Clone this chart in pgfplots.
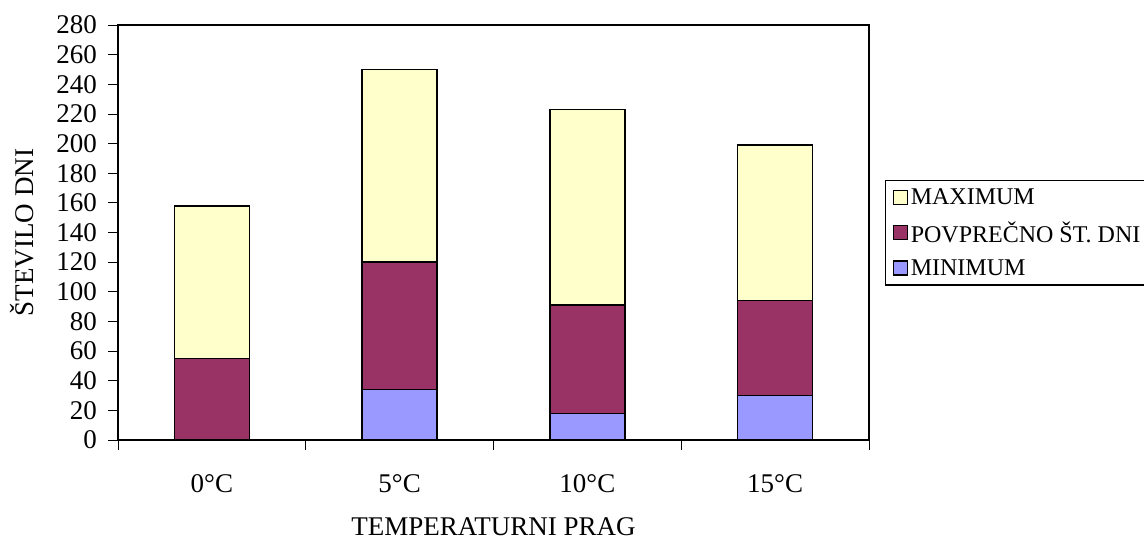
\documentclass[border=0pt]{standalone}
\usepackage{pgfplots}
\pgfplotsset{compat=1.18}
\usepackage{fontspec}
\setmainfont{Liberation Serif}

\definecolor{cmax}{HTML}{FFFFCC}
\definecolor{cavg}{HTML}{993366}
\definecolor{cmin}{HTML}{9999FF}

\begin{document}
\begin{tikzpicture}
\path[use as bounding box] (-118bp,-101bp) rectangle (1026bp,440bp);
\begin{axis}[
  scale only axis,
  width=751bp, height=415bp,
  xmin=-0.5, xmax=3.5,
  ymin=0, ymax=280,
  ytick distance=20,
  xtick={0,1,2,3},
  xticklabels={0°C,5°C,10°C,15°C},
  minor xtick={-0.5,0.5,1.5,2.5,3.5},
  major x tick style={draw=none},
  minor x tick style={black, line width=0.6bp},
  y tick style={black, line width=0.8bp},
  tick align=outside,
  major tick length=10bp,
  minor tick length=10bp,
  ytick pos=left, xtick pos=bottom,
  axis line style={black, line width=1.6bp},
  /pgf/number format/assume math mode=true,
  ticklabel style={font=\fontsize{27bp}{32bp}\selectfont},
  yticklabel style={anchor=east, inner xsep=0pt, xshift=-11bp},
  xticklabel style={anchor=base, yshift=-42bp},
  every axis y label/.style={at={(rel axis cs:0,0.5)}, rotate=90, anchor=center, yshift=96bp, font=\fontsize{27bp}{32bp}\selectfont},
  every axis x label/.style={at={(rel axis cs:0.5,0)}, anchor=base, yshift=-95bp, font=\fontsize{27bp}{32bp}\selectfont},
  ylabel={ŠTEVILO DNI},
  xlabel={TEMPERATURNI PRAG},
  ybar, bar width=75bp, bar shift=0pt,
  legend style={at={(rel axis cs:1.0213,0.627)}, anchor=north west,
    draw=black, line width=1.2bp, inner xsep=7bp, inner ysep=6.5bp,
    font=\fontsize{24bp}{28bp}\selectfont, row sep=11.5bp,
    cells={anchor=west},
    /tikz/every odd column/.append style={column sep=1bp}},
  legend image code/.code={\draw[#1, line width=1.2bp] (0bp,-7bp) rectangle (14bp,7bp);},
]
\addplot[fill=cmax, draw=black, line width=1.6bp] coordinates {(0,158) (1,250) (2,223) (3,199)};
\addplot[fill=cavg, draw=black, line width=1.6bp] coordinates {(0,55) (1,120) (2,91) (3,94)};
\addplot[fill=cmin, draw=black, line width=1.6bp] coordinates {(0,0) (1,34) (2,18) (3,30)};
\legend{MAXIMUM, POVPREČNO ŠT. DNI, MINIMUM}
\end{axis}
\end{tikzpicture}
\end{document}
